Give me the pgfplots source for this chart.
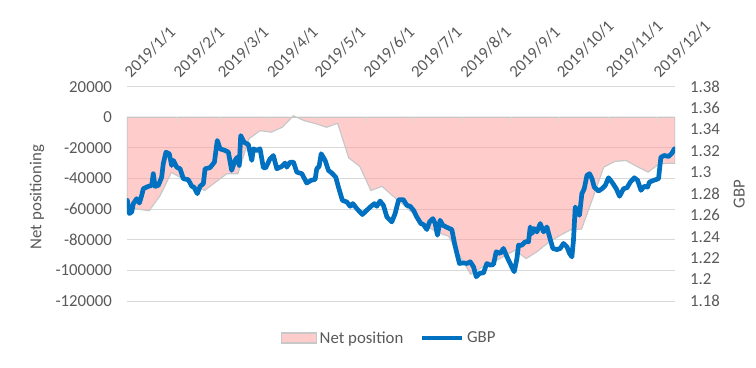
\documentclass[border=0pt]{standalone}
\usepackage{fontspec}
\setmainfont{Carlito}
\usepackage{pgfplots}
\usepackage{pgfplotstable}
\pgfplotsset{compat=1.18}
\definecolor{pinkfill}{RGB}{255,153,153}
\definecolor{areaedge}{RGB}{200,200,200}
\definecolor{gbpblue}{RGB}{0,112,192}
\definecolor{gridgray}{RGB}{217,217,217}
\definecolor{txtgray}{RGB}{89,89,89}
\newcommand\cf{\fontsize{16.8}{20}\selectfont}
\pgfplotsset{
  areaimg/.style={legend image code/.code={\draw[##1] (0pt,-5pt) rectangle (35pt,5pt);}},
  lineimg/.style={legend image code/.code={\draw[##1] (0pt,0pt) -- (40pt,0pt);}},
}

\pgfplotstableread{
d v
0 -59000
7 -60000
14 -61000
21 -51000
28 -36000
35 -40000
42 -45000
49 -47800
56 -42300
63 -36900
70 -36900
77 -14100
84 -8700
91 -9700
98 -6500
105 1000
112 -2200
119 -4100
126 -6500
133 -3900
140 -26500
147 -32100
154 -47800
161 -45100
168 -51500
175 -57500
182 -64000
189 -70700
196 -75300
203 -77600
210 -90200
217 -102500
224 -98000
231 -94600
238 -90800
245 -86800
252 -92300
259 -87700
266 -81800
273 -77400
280 -73500
287 -73000
294 -53000
301 -32600
308 -28800
315 -28200
322 -32100
329 -35800
336 -30400
343 -30000
346 -30000
}\netpos

\pgfplotstableread{
d g
0.2 1.2739
1.5 1.2616
3.0 1.2631
4.0 1.2709
6.1 1.2755
7.8 1.2714
9.3 1.2786
10.3 1.2848
13.5 1.2870
15.6 1.2879
16.6 1.2988
17.7 1.2870
19.8 1.2879
21.9 1.2956
22.9 1.3081
24.6 1.3189
26.7 1.3174
28.2 1.3065
29.3 1.3112
31.4 1.3049
33.5 1.3034
35.6 1.2941
38.7 1.2932
40.9 1.2870
42.3 1.2863
44.4 1.2802
46.1 1.2870
48.2 1.2895
49.3 1.3034
52.4 1.3044
55.2 1.3096
57.0 1.3298
58.8 1.3220
61.9 1.3205
64.0 1.3189
66.1 1.3019
68.2 1.3112
69.7 1.3142
70.9 1.3065
71.8 1.3344
73.9 1.3282
76.6 1.3260
78.8 1.3112
79.8 1.3220
81.9 1.3205
84.0 1.3220
86.1 1.3044
87.6 1.3043
90.3 1.3127
92.4 1.3158
94.6 1.3034
97.7 1.3056
99.8 1.3087
100.9 1.3049
103.0 1.3096
105.1 1.3096
107.2 1.3003
110.4 1.2988
113.5 1.2901
116.2 1.2926
118.8 1.2935
119.8 1.3034
121.3 1.3056
122.6 1.3174
125.1 1.3112
127.2 1.3019
129.3 1.2994
131.8 1.2956
133.5 1.2863
136.0 1.2739
138.8 1.2724
140.9 1.2684
142.6 1.2709
145.1 1.2662
148.6 1.2607
151.4 1.2647
154.1 1.2684
156.2 1.2709
157.7 1.2684
159.8 1.2733
161.9 1.2693
164.1 1.2584
167.2 1.2538
169.3 1.2616
171.4 1.2739
172.0 1.2746
174.5 1.2746
176.7 1.2693
178.8 1.2684
180.9 1.2647
183.0 1.2584
185.5 1.2523
187.2 1.2513
189.3 1.2467
191.0 1.2538
193.1 1.2569
194.6 1.2523
196.0 1.2414
197.7 1.2553
199.4 1.2507
201.5 1.2491
203.6 1.2476
205.1 1.2467
206.8 1.2337
208.3 1.2244
209.9 1.2150
212.4 1.2156
214.6 1.2150
216.7 1.2166
218.8 1.2119
220.5 1.2026
222.6 1.2058
225.1 1.2063
227.2 1.2150
229.3 1.2135
231.4 1.2141
233.1 1.2259
235.6 1.2244
237.7 1.2290
239.9 1.2212
242.4 1.2135
244.5 1.2073
246.2 1.2197
247.2 1.2321
249.3 1.2321
251.4 1.2352
253.5 1.2352
254.6 1.2491
255.7 1.2430
257.1 1.2476
258.8 1.2445
260.9 1.2523
263.0 1.2445
265.1 1.2491
266.8 1.2398
268.9 1.2290
271.5 1.2280
273.5 1.2290
275.6 1.2337
277.8 1.2305
279.4 1.2244
280.9 1.2212
281.9 1.2367
283.0 1.2677
284.1 1.2647
285.7 1.2600
287.2 1.2802
288.7 1.2848
290.4 1.2972
292.0 1.2988
293.6 1.2941
295.0 1.2863
297.7 1.2826
299.9 1.2848
302.0 1.2879
304.0 1.2950
306.2 1.2910
308.9 1.2848
311.0 1.2777
313.5 1.2848
315.7 1.2857
317.8 1.2910
320.3 1.2950
322.4 1.2926
324.5 1.2833
326.6 1.2870
328.7 1.2863
329.9 1.2910
332.5 1.2926
335.6 1.2941
337.1 1.3142
339.2 1.3158
342.0 1.3149
344.1 1.3180
345.6 1.3220
}\gbp

\begin{document}
\begin{tikzpicture}
\begin{axis}[
  name=ax1,
  scale only axis, width=548pt, height=214.3pt,
  xmin=0, xmax=346,
  ymin=-120000, ymax=20000,
  ytick={-120000,-100000,-80000,-60000,-40000,-20000,0,20000},
  yticklabels={-120000,-100000,-80000,-60000,-40000,-20000,0,20000},
  scaled y ticks=false,
  xtick={0,31,59,90,120,151,181,212,243,273,304,334},
  xticklabels={2019/1/1,2019/2/1,2019/3/1,2019/4/1,2019/5/1,2019/6/1,2019/7/1,2019/8/1,2019/9/1,2019/10/1,2019/11/1,2019/12/1},
  xticklabel pos=upper,
  xticklabel style={yshift=12pt, rotate=45, anchor=west, inner sep=0pt},
  yticklabel style={anchor=east, inner sep=0pt, xshift=-15pt},
  tick label style={font=\cf, text=txtgray},
  major tick length=0pt,
  axis line style={draw=none},
  ymajorgrids, grid style={draw=gridgray, line width=0.9pt},
  ylabel={Net positioning},
  ylabel style={at={(axis description cs:-0.164,0.485)}, anchor=center, font=\cf, text=txtgray},
  legend style={at={(0.479,-0.1727)}, anchor=center, draw=none, fill=none, legend columns=2,
    font=\cf, text=txtgray, nodes={inner sep=2.5pt},
    /tikz/every even column/.append style={column sep=14pt}},
]
\addplot[fill=pinkfill, fill opacity=0.5, draw=areaedge, line width=1.2pt, areaimg]
  table[x=d, y=v] {\netpos} \closedcycle;
\addlegendentry{Net position}
\addlegendimage{gbpblue, line width=4.7pt, lineimg}
\addlegendentry{GBP}
\pgfplotsinvokeforeach{31,59,90,120,151,181,212,243,273,304,334}{
  \draw[gridgray, line width=0.9pt] (axis cs:#1,0) -- ([yshift=-5pt]axis cs:#1,0);
}
\end{axis}
\begin{axis}[
  scale only axis, width=548pt, height=214.3pt,
  xmin=0, xmax=346,
  ymin=1.18, ymax=1.38,
  axis y line*=right, axis x line=none,
  ytick={1.18,1.2,1.22,1.24,1.26,1.28,1.3,1.32,1.34,1.36,1.38},
  yticklabels={1.18,1.2,1.22,1.24,1.26,1.28,1.3,1.32,1.34,1.36,1.38},
  yticklabel style={anchor=west, inner sep=0pt, xshift=15pt, font=\cf, text=txtgray},
  major tick length=0pt,
  axis line style={draw=none},
  ylabel={GBP},
  ylabel style={at={(axis description cs:1.117,0.5)}, anchor=center, font=\cf, text=txtgray},
]
\addplot[gbpblue, line width=4.7pt, line join=round, line cap=round] table[x=d, y=g] {\gbp};
\end{axis}
\path[use as bounding box] ([xshift=-127pt,yshift=-67pt]ax1.south west) rectangle ([xshift=81pt,yshift=86.7pt]ax1.north east);
\end{tikzpicture}
\end{document}
